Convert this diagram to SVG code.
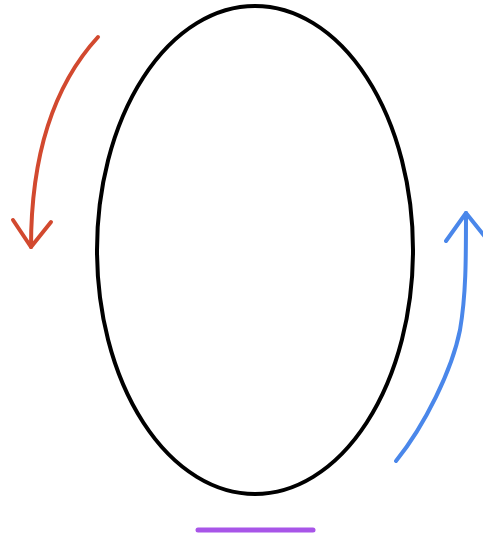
<svg xmlns="http://www.w3.org/2000/svg" width="483" height="541" viewBox="0 0 483 541">
<style>
.s{fill:none;stroke-linecap:round;stroke-linejoin:round}
</style>
<rect width="483" height="541" fill="#ffffff"/>
<g id="ellipse"><ellipse class="s" cx="255" cy="250" rx="158" ry="244" stroke="#000" stroke-width="4"/></g>
<g id="connectors">
<g id="red-arrow" stroke="#d2492f" stroke-width="4" class="s">
<path d="M98,37 Q31,110 31,247"/>
<path d="M13,220 L31,247 L51,222"/>
</g>
<g id="blue-arrow" stroke="#4a87ea" stroke-width="4" class="s">
<path d="M396,461 C425,425 452,370 460,330 C466,295 466,260 466,213"/>
<path d="M446,241 L466,213 L486,238"/>
</g>
</g>
<g id="purple-line"><line x1="198" y1="530" x2="313" y2="530" stroke="#a855e8" stroke-width="5" stroke-linecap="round"/></g>
</svg>
